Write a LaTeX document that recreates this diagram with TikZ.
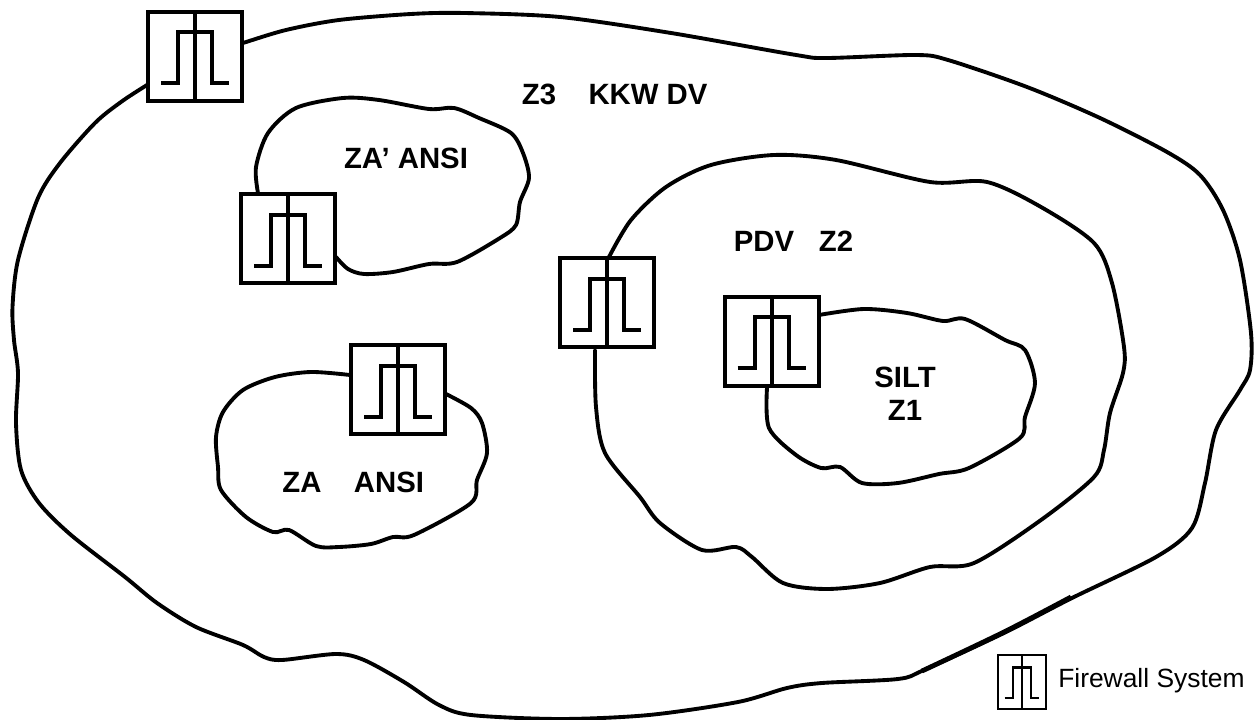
\documentclass[tikz,border=0pt]{standalone}
\usepackage{fontspec}
\setmainfont{Liberation Sans}
\tikzset{
  blob/.style={line width=2.9pt,line join=round,line cap=round},
  lab/.style={font=\fontsize{22}{26}\bfseries\selectfont,inner sep=0pt,anchor=center},
  fwline/.style={line width=3pt},
  fw/.pic={
    \draw[fwline,fill=white] (-47,-44.5) rectangle (47,44.5);
    \draw[fwline] (0,-44.5) -- (0,44.5);
    \draw[fwline,line cap=butt] (-34,27) -- (-17,27) -- (-17,-24) -- (17,-24) -- (17,27) -- (34,27);
  }
}
\begin{document}
\begin{tikzpicture}[x=0.75pt,y=-0.75pt]
\useasboundingbox (0,0) rectangle (1258,720);
% zone outlines
\draw[blob] plot[smooth,tension=0.5] coordinates {(215,52)(243,43)(286,30)(339,20)(411,14)(464,13)(560,17)(671,33)(796,55)(827,58)(916,55)(948,60)(1027,87)(1100,118)(1167,152)(1200,175)(1223,210)(1240,260)(1251,333)(1250,370)(1240,390)(1216,430)(1205,483)(1192,528)(1156,557)(1072,598)(1004,633)(924,670)(898,679)(822,683)(787,688)(738,702)(649,715)(560,719)(471,715)(439,705)(404,682)(364,660)(336,654)(282,660)(264,657)(243,645)(196,627)(157,603)(125,577)(71,535)(39,503)(21,470)(16,423)(18,373)(14,340)(12.5,307)(18,260)(38,198)(60,163)(95,123)(121,102)(147,85)(175,68)};
\draw[line width=3.6pt,line cap=butt] plot[smooth,tension=0.5] coordinates {(922,671)(1004,632)(1071,597)};
\draw[blob] plot[smooth,tension=0.5] coordinates {(258,193)(256,167)(268,133)(296,108)(343,98)(379,100)(429,109)(454,108)(479,118)(511,133)(523,153)(529,178)(520,202)(516,225)(500,238)(457,262)(429,264)(393,272)(364,274)(348,269)(336,257)};
\draw[blob] plot[smooth,tension=0.5] coordinates {(609,257)(631,220)(666,187)(711,165)(774,155)(836,160)(930,182)(987,182)(1041,207)(1094,243)(1112,283)(1124,347)(1123,373)(1110,413)(1104,450)(1094,477)(1041,520)(974,563)(930,567)(880,583)(827,589)(783,583)(752,557)(736,547)(702,550)(660,523)(640,497)(605,453)(596,407)(595,350)};
\draw[blob] plot[smooth,tension=0.5] coordinates {(819,315)(864,309)(907,313)(943,321)(965,319)(1005,340)(1025,350)(1035,383)(1025,417)(1020,438)(969,468)(939,474)(898,483)(862,483)(840,467)(821,468)(796,455)(769,428)(767,388)};
\draw[blob] plot[smooth,tension=0.5] coordinates {(350,375)(311,372)(275,377)(243,390)(223,412)(216,437)(218,467)(221,490)(246,517)(273,532)(289,530)(316,546)(339,547)(371,544)(393,537)(414,535)(471,503)(477,480)(487,453)(482,423)(471,408)(446,394)};
% firewalls
\pic at (195,56.5) {fw};
\pic at (288,239) {fw};
\pic at (607,303) {fw};
\pic at (771.5,341.5) {fw};
\pic at (398,390) {fw};
\begin{scope}[shift={(1022,682)},xscale=0.51,yscale=0.605,fwline/.style={line width=1.6pt}]
\pic[transform shape] at (0,0) {fw};
\end{scope}
% labels
\node[lab] (z3) at (539,94) {Z3};
\node[lab] (kkw) at (648,94) {KKW DV};
\node[lab] (zap) at (406,158) {ZA’ ANSI};
\node[lab] (pdv) at (764,241) {PDV};
\node[lab] (z2) at (836,241) {Z2};
\node[lab] (silt) at (905,377) {SILT};
\node[lab] (z1) at (905,410) {Z1};
\node[lab] (za) at (302,482) {ZA};
\node[lab] (ansi) at (389,482) {ANSI};
\node[font=\fontsize{19.8}{22}\selectfont,inner sep=0pt,anchor=base west] (legend) at (1058,687) {Firewall System};
\end{tikzpicture}
\end{document}
